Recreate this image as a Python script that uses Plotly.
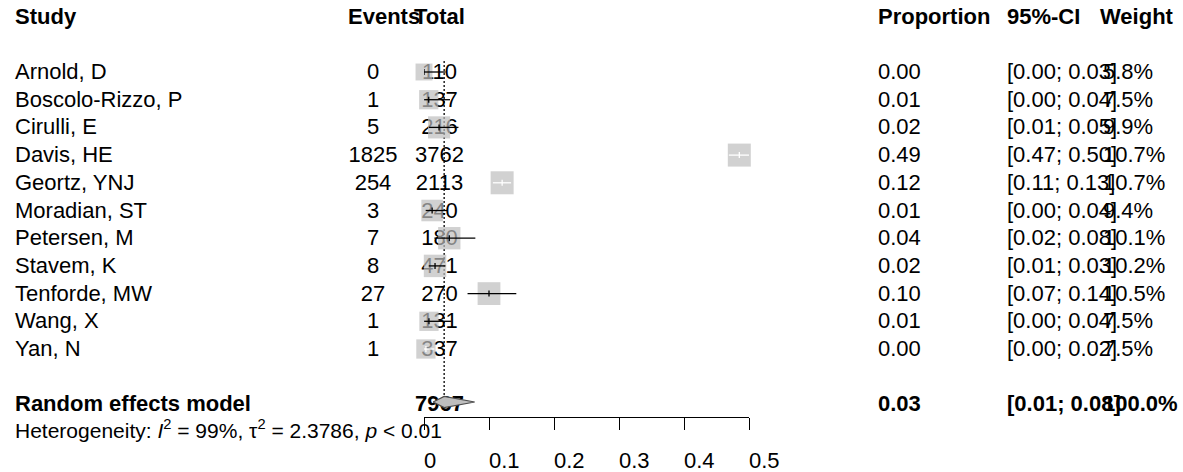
import plotly.graph_objects as go

# ---------------- data ----------------
studies = ["Arnold, D", "Boscolo-Rizzo, P", "Cirulli, E", "Davis, HE", "Geortz, YNJ",
           "Moradian, ST", "Petersen, M", "Stavem, K", "Tenforde, MW", "Wang, X", "Yan, N"]
events = [0, 1, 5, 1825, 254, 3, 7, 8, 27, 1, 1]
totals = [110, 137, 216, 3762, 2113, 240, 180, 471, 270, 131, 337]
ci_lower = [0.000, 0.0002, 0.0076, 0.469, 0.106, 0.0026, 0.016, 0.0073, 0.067, 0.0002, 0.0001]
ci_upper = [0.033, 0.040, 0.053, 0.501, 0.134, 0.036, 0.079, 0.033, 0.142, 0.042, 0.016]
weights = [5.8, 7.5, 9.9, 10.7, 10.7, 9.4, 10.1, 10.2, 10.5, 7.5, 7.5]

pooled_est = 0.031
pooled_lower = 0.014
pooled_upper = 0.078
pooled_weight = 100.0
pooled_label = "Random effects model"
i2_pct = 99
tau2 = 2.3786
p_text = "< 0.01"

x_ticks = [0, 0.1, 0.2, 0.3, 0.4, 0.5]
x_ticklabels = ["0", "0.1", "0.2", "0.3", "0.4", "0.5"]

headers = ["Study", "Events", "Total", "Proportion", "95%-CI", "Weight"]

# ---------------- style / layout ----------------
W, H = 1183, 472
FONT = "Liberation Sans, Arial, sans-serif"
FS = 22
SQ_COLOR = "#BEBEBE"
ci_inside_white = {"Davis, HE", "Geortz, YNJ", "Yan, N"}

ROW0_PX, ROW_STEP = 73.5, 27.7          # pixel anchor of first study row, row spacing
def px_to_row(p):
    return (p - ROW0_PX) / ROW_STEP

STUDY_X, EVENTS_X, EVENTS_HDR_X, TOTAL_X = 15, 373, 348, 439.5
PROP_X, CI_X, WEIGHT_X, WEIGHT_HDR_X = 878, 1007, 1103, 1100
AX_LEFT, AX_RIGHT, AX_Y = 424, 749, 417

n = len(studies)
rows = list(range(n))
hdr_row = -2
pool_row = n + 1
het_row = px_to_row(433)
ticklab_row = px_to_row(462)
mark_off = -1.5 / ROW_STEP

proportion = [e / t for e, t in zip(events, totals)]

fig = go.Figure()

def text_trace(xs, ys, texts, pos, axis="x", size=FS):
    fig.add_trace(go.Scatter(
        x=xs, y=ys, text=texts, mode="text", textposition=pos,
        textfont=dict(family=FONT, size=size, color="black"),
        xaxis=axis, yaxis="y", hoverinfo="skip", cliponaxis=False))

# headers
text_trace([STUDY_X, EVENTS_HDR_X, PROP_X, CI_X, WEIGHT_HDR_X], [hdr_row] * 5,
           ["<b>%s</b>" % h for h in [headers[0], headers[1], headers[3], headers[4], headers[5]]],
           "middle right")
text_trace([TOTAL_X], [hdr_row], ["<b>%s</b>" % headers[2]], "middle center")

# study columns
text_trace([STUDY_X] * n, rows, studies, "middle right")
text_trace([EVENTS_X] * n, rows, [str(e) for e in events], "middle center")
text_trace([TOTAL_X] * n, rows, [str(t) for t in totals], "middle center")
text_trace([PROP_X] * n, rows, ["%.2f" % p for p in proportion], "middle right")
text_trace([CI_X] * n, rows, ["[%.2f; %.2f]" % (l, u) for l, u in zip(ci_lower, ci_upper)], "middle right")
text_trace([WEIGHT_X] * n, rows, ["%.1f%%" % w for w in weights], "middle right")

# pooled row
text_trace([STUDY_X, PROP_X, CI_X, WEIGHT_X], [pool_row] * 4,
           ["<b>%s</b>" % pooled_label, "<b>%.2f</b>" % pooled_est,
            "<b>[%.2f; %.2f]</b>" % (pooled_lower, pooled_upper),
            "<b>%.1f%%</b>" % pooled_weight], "middle right")
text_trace([TOTAL_X], [pool_row], ["<b>%d</b>" % sum(totals)], "middle center")

# heterogeneity
het = ("Heterogeneity: <i>I</i><sup>2</sup> = %d%%, τ<sup>2</sup> = %.4f, <i>p</i> %s"
       % (i2_pct, tau2, p_text))
text_trace([STUDY_X], [het_row], [het], "middle right", size=21)

# ---------------- forest marks (x2 axis) ----------------
# dotted reference line at pooled estimate
fig.add_trace(go.Scatter(
    x=[pooled_est, pooled_est], y=[px_to_row(61), px_to_row(397)], mode="lines",
    line=dict(color="black", width=1.3, dash="2px,2px"),
    xaxis="x2", yaxis="y", hoverinfo="skip"))

# squares
sizes = [23 * (w / max(weights)) ** 0.5 for w in weights]
fig.add_trace(go.Scatter(
    x=proportion, y=[r + mark_off for r in rows], mode="markers",
    marker=dict(symbol="square", size=sizes, color=SQ_COLOR, line=dict(width=0)),
    xaxis="x2", yaxis="y", hoverinfo="skip", cliponaxis=False))

# CI lines + estimate ticks
tick_h = 3.0 / ROW_STEP
for colour in ["black", "white"]:
    xs, ys = [], []
    for i in range(n):
        inside = studies[i] in ci_inside_white
        if (colour == "white") != inside:
            continue
        yr = rows[i] + mark_off
        xs += [ci_lower[i], ci_upper[i], None, proportion[i], proportion[i], None]
        ys += [yr, yr, None, yr - tick_h, yr + tick_h, None]
    fig.add_trace(go.Scatter(
        x=xs, y=ys, mode="lines", line=dict(color=colour, width=1.3),
        xaxis="x2", yaxis="y", hoverinfo="skip", connectgaps=False))

# diamond
dy = 5.5 / ROW_STEP
yc = px_to_row(402)
fig.add_trace(go.Scatter(
    x=[pooled_lower, pooled_est, pooled_upper, pooled_est, pooled_lower],
    y=[yc, yc - dy, yc, yc + dy, yc], mode="lines", fill="toself",
    fillcolor=SQ_COLOR, line=dict(color="#4d4d4d", width=1.2),
    xaxis="x2", yaxis="y", hoverinfo="skip"))

# tick labels (left-aligned at tick, as in the reference)
text_trace(x_ticks, [ticklab_row] * len(x_ticks), x_ticklabels, "middle right", axis="x2")

fig.update_layout(
    width=W, height=H, margin=dict(l=0, r=0, t=0, b=0),
    paper_bgcolor="white", plot_bgcolor="rgba(0,0,0,0)", showlegend=False,
    xaxis=dict(range=[0, W], domain=[0, 1], visible=False, fixedrange=True),
    yaxis=dict(range=[px_to_row(H), px_to_row(0)], domain=[0, 1], visible=False, fixedrange=True),
    xaxis2=dict(range=[x_ticks[0], x_ticks[-1]], domain=[AX_LEFT / W, AX_RIGHT / W],
                anchor="free", position=(H - AX_Y) / H,
                showline=True, linecolor="black", linewidth=1,
                ticks="outside", ticklen=12, tickwidth=1, tickcolor="black",
                tickvals=x_ticks, showticklabels=False,
                showgrid=False, zeroline=False, fixedrange=True),
)

fig.write_html("out.html", config={"displayModeBar": False, "staticPlot": True},
               post_script="document.body.style.margin='0';document.body.style.overflow='hidden';")
